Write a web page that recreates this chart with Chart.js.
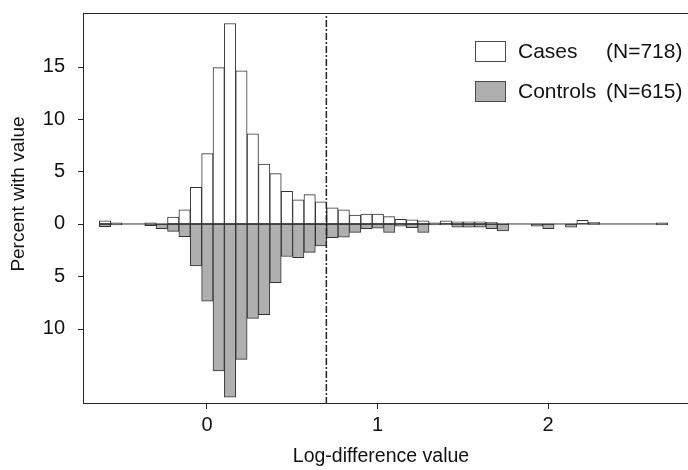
<!DOCTYPE html>
<html lang="en">
<head>
    <meta charset="UTF-8">
    <title>Log-difference histogram</title>
    <style>
        html, body {
            margin: 0;
            padding: 0;
            background: #fff;
            overflow: hidden;
        }
        #wrap {
            width: 700px;
            height: 470px;
        }
    </style>
</head>
<body>
    <div id="wrap"><canvas id="myChart" width="700" height="470"></canvas></div>
    <script src="https://cdn.jsdelivr.net/npm/chart.js@4.4.1/dist/chart.umd.min.js"></script>
    <script>
        // histogram bins: left edge of the first bin and bin width (log-difference units)
        const firstBinLeft = -0.6313;
        const binWidth = 1 / 15;

        // percent with value, one entry per bin
        const casesPct = [
            0.3, 0.1, 0, 0, 0.1, 0, 0.65, 1.35, 3.5, 6.7,
            14.9, 19.1, 14.6, 8.6, 5.7, 4.8, 3.1, 2.3, 2.8, 2.1,
            1.55, 1.35, 0.85, 0.95, 0.95, 0.7, 0.45, 0.4, 0.3, 0.1,
            0.3, 0.2, 0.2, 0.2, 0.15, 0.05, 0, 0, 0, 0,
            0, 0, 0.35, 0.15, 0, 0, 0, 0, 0, 0.1
        ];
        const controlsPct = [
            0.25, 0.1, 0, 0, 0.15, 0.45, 0.7, 1.2, 4.0, 7.35,
            14.0, 16.5, 12.9, 9.0, 8.65, 5.6, 3.1, 3.2, 2.7, 2.1,
            1.3, 1.25, 0.8, 0.45, 0.4, 0.8, 0.2, 0.35, 0.8, 0.1,
            0.1, 0.3, 0.3, 0.3, 0.45, 0.65, 0, 0, 0.2, 0.45,
            0, 0.3, 0, 0.05, 0, 0, 0, 0, 0, 0.1
        ];

        const seriesNames = ['Cases', 'Controls'];
        const seriesCounts = ['(N=718)', '(N=615)'];

        const cutoff = 0.70;           // dashed reference line
        const xTickValues = [0, 1, 2];
        const yTickValues = [-10, -5, 0, 5, 10, 15];

        const FONT = '"Liberation Sans", Arial, Helvetica, sans-serif';
        const INK = '#262626';
        const TEXT = '#111';
        const GREY = '#afafaf';

        const xMin = -0.727, xMax = 2.891;
        const yMin = -17.15, yMax = 20.1;

        let centres = casesPct.map((v, i) => firstBinLeft + binWidth * (i + 0.5));
        let casesData = casesPct.map((v, i) => ({x: centres[i], y: v}));
        let controlsData = controlsPct.map((v, i) => ({x: centres[i], y: -v}));
        let lastEdge = firstBinLeft + binWidth * casesPct.length;

        // frame, axis titles and legend drawn over the plot
        const decorations = {
            id: 'decorations',
            afterDraw(chart) {
                const {ctx, chartArea: a} = chart;
                ctx.save();
                ctx.strokeStyle = INK;
                ctx.lineWidth = 1;
                ctx.strokeRect(a.left + 0.5, a.top + 0.5, a.right - a.left, a.bottom - a.top - 1);

                // left tick marks
                let ys = chart.scales.y;
                ctx.beginPath();
                yTickValues.forEach(v => {
                    let py = Math.round(ys.getPixelForValue(v)) + 0.5;
                    ctx.moveTo(a.left - 5, py);
                    ctx.lineTo(a.left, py);
                });
                ctx.stroke();

                ctx.fillStyle = TEXT;
                ctx.font = '19.5px ' + FONT;
                ctx.textAlign = 'center';
                ctx.textBaseline = 'middle';
                ctx.fillText('Log-difference value', 381, 457);

                ctx.save();
                ctx.translate(19, 194);
                ctx.rotate(-Math.PI / 2);
                ctx.font = '19px ' + FONT;
                ctx.fillText('Percent with value', 0, 0);
                ctx.restore();

                // legend
                const fills = ['#ffffff', GREY];
                ctx.textAlign = 'left';
                ctx.font = '21px ' + FONT;
                for (let i = 0; i < seriesNames.length; i++) {
                    let y = 41 + i * 40;
                    ctx.fillStyle = fills[i];
                    ctx.fillRect(475, y, 30, 20);
                    ctx.strokeStyle = '#4a4a4a';
                    ctx.strokeRect(475.5, y + 0.5, 30, 20);
                    ctx.fillStyle = TEXT;
                    ctx.fillText(seriesNames[i], 518, y + 11);
                    ctx.fillText(seriesCounts[i], 606, y + 11);
                }
                ctx.restore();
            }
        };

        let ctx = document.getElementById('myChart').getContext('2d');
        let chart = new Chart(ctx, {
            type: 'bar',
            data: {
                datasets: [{
                    type: 'line',
                    label: 'cutoff',
                    data: [{x: cutoff, y: yMin}, {x: cutoff, y: yMax}],
                    borderColor: '#222',
                    borderWidth: 1.5,
                    borderDash: [7, 2, 2, 2],
                    pointRadius: 0,
                    order: 0
                }, {
                    type: 'line',
                    label: 'zero',
                    data: [{x: firstBinLeft, y: 0}, {x: lastEdge, y: 0}],
                    borderColor: '#333',
                    borderWidth: 1,
                    pointRadius: 0,
                    order: 1
                }, {
                    label: seriesNames[0],
                    data: casesData,
                    backgroundColor: '#ffffff',
                    borderColor: '#333',
                    borderWidth: 1,
                    borderSkipped: false,
                    grouped: false,
                    barPercentage: 1,
                    categoryPercentage: 1,
                    order: 2
                }, {
                    label: seriesNames[1],
                    data: controlsData,
                    backgroundColor: GREY,
                    borderColor: '#333',
                    borderWidth: 1,
                    borderSkipped: false,
                    grouped: false,
                    barPercentage: 1,
                    categoryPercentage: 1,
                    order: 3
                }]
            },
            options: {
                responsive: false,
                animation: false,
                devicePixelRatio: 1,
                layout: {padding: {top: 13, right: 0, left: 0, bottom: 0}},
                plugins: {
                    legend: {display: false},
                    tooltip: {enabled: false}
                },
                scales: {
                    x: {
                        type: 'linear',
                        min: xMin,
                        max: xMax,
                        offset: false,
                        afterBuildTicks: s => { s.ticks = xTickValues.map(v => ({value: v})); },
                        afterFit: s => { s.height = 66; s.paddingLeft = 0; s.paddingRight = 0; },
                        border: {display: false},
                        grid: {offset: false, drawOnChartArea: false, drawTicks: true, tickLength: 5, color: INK},
                        ticks: {
                            font: {family: FONT, size: 20},
                            color: TEXT,
                            padding: 4,
                            maxRotation: 0,
                            callback: v => String(v)
                        }
                    },
                    y: {
                        min: yMin,
                        max: yMax,
                        afterBuildTicks: s => { s.ticks = yTickValues.map(v => ({value: v})); },
                        afterFit: s => { s.width = 83; s.paddingTop = 0; s.paddingBottom = 0; },
                        border: {display: false},
                        grid: {display: false},
                        ticks: {
                            font: {family: FONT, size: 20},
                            color: TEXT,
                            padding: 10,
                            callback: v => String(Math.abs(v))
                        }
                    }
                }
            },
            plugins: [decorations]
        });
    </script>
</body>
</html>
